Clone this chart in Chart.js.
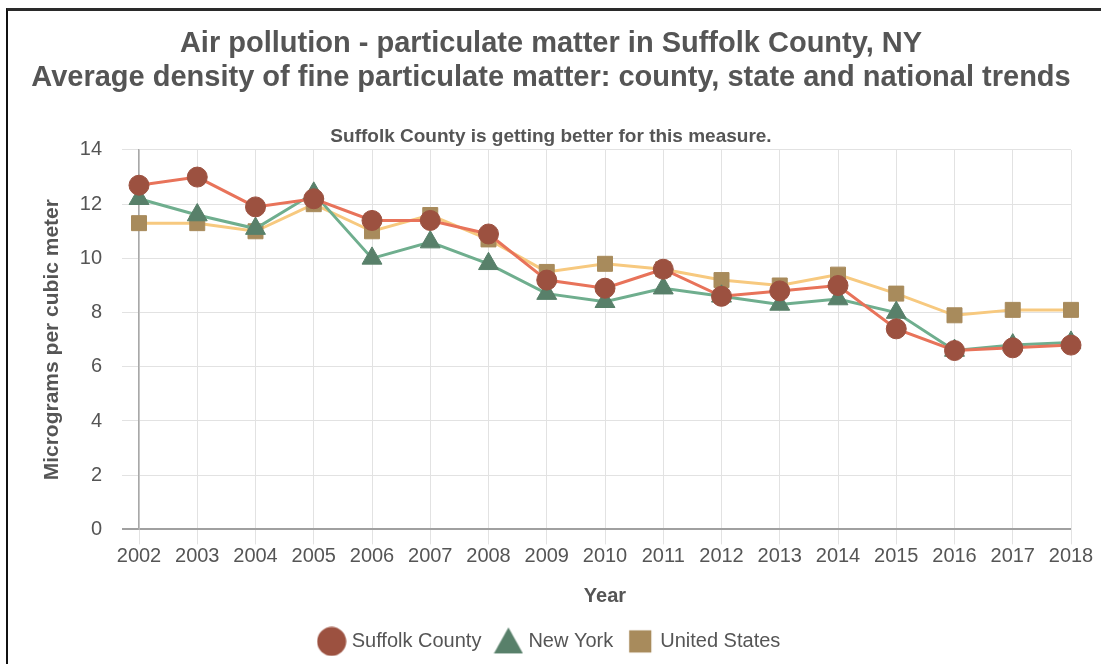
<!DOCTYPE html>
<html>
<head>
<meta charset="utf-8">
<script src="https://cdn.jsdelivr.net/npm/chart.js@4.4.1/dist/chart.umd.min.js"></script>
<style>
  html, body { margin: 0; padding: 0; background: #fff; }
  #wrap { position: relative; width: 1101px; height: 664px; }
  #frame { position: absolute; left: 6px; top: 8px; right: 0; bottom: 0;
           border-top: 3px solid #2a2a2a; border-left: 2px solid #111; pointer-events: none; }
</style>
</head>
<body>
<div id="wrap">
  <canvas id="pmChart" width="1101" height="664"></canvas>
  <div id="frame"></div>
</div>
<script>
// Data
const years = ['2002', '2003', '2004', '2005', '2006', '2007', '2008', '2009', '2010',
               '2011', '2012', '2013', '2014', '2015', '2016', '2017', '2018'];
const suffolk = [12.7, 13.0, 11.9, 12.2, 11.4, 11.4, 10.9, 9.2, 8.9, 9.6, 8.6, 8.8, 9.0, 7.4, 6.6, 6.7, 6.8];
const newYork = [12.2, 11.6, 11.1, 12.4, 10.0, 10.6, 9.8, 8.7, 8.4, 8.9, 8.6, 8.3, 8.5, 8.0, 6.6, 6.8, 6.9];
const unitedStates = [11.3, 11.3, 11.0, 12.0, 11.0, 11.6, 10.7, 9.5, 9.8, 9.6, 9.2, 9.0, 9.4, 8.7, 7.9, 8.1, 8.1];
const yTicks = [0, 2, 4, 6, 8, 10, 12, 14];

const FONT = "'Liberation Sans', Arial, sans-serif";
const TEXT = '#555555';

// Bigger legend markers, drawn once on small canvases
function marker(shape, color, size) {
    const c = document.createElement('canvas');
    c.width = size; c.height = size;
    const g = c.getContext('2d');
    g.fillStyle = color;
    g.beginPath();
    if (shape === 'circle') {
        g.arc(size / 2, size / 2, size / 2 - 0.5, 0, Math.PI * 2);
    } else if (shape === 'triangle') {
        g.moveTo(size / 2, 1);
        g.lineTo(size - 0.5, size - 3);
        g.lineTo(0.5, size - 3);
        g.closePath();
    } else {
        const s = size * 0.74, o = (size - s) / 2;
        g.rect(o, o, s, s);
    }
    g.fill();
    return c;
}
const legendMarkers = [
    marker('circle', '#9c5140', 30),
    marker('triangle', '#58806a', 30),
    marker('rect', '#a88b5c', 30)
];

const ctx = document.getElementById('pmChart').getContext('2d');
new Chart(ctx, {
    type: 'line',
    data: {
        labels: years,
        datasets: [{
            label: 'Suffolk County',
            data: suffolk,
            borderColor: '#e8735a',
            borderWidth: 3,
            pointStyle: 'circle',
            pointRadius: 10,
            pointBackgroundColor: '#9c5140',
            pointBorderColor: '#9c5140',
            pointBorderWidth: 1
        },
        {
            label: 'New York',
            data: newYork,
            borderColor: '#6fae8e',
            borderWidth: 3,
            pointStyle: 'triangle',
            pointRadius: 11.5,
            pointBackgroundColor: '#58806a',
            pointBorderColor: '#58806a',
            pointBorderWidth: 1
        },
        {
            label: 'United States',
            data: unitedStates,
            borderColor: '#f7c97f',
            borderWidth: 3,
            pointStyle: 'rect',
            pointRadius: 10.6,
            pointBackgroundColor: '#a88b5c',
            pointBorderColor: '#a88b5c',
            pointBorderWidth: 1
        }]
    },
    options: {
        responsive: false,
        animation: false,
        layout: {
            padding: { left: 31, right: 30, top: 0, bottom: 2.6 }
        },
        plugins: {
            title: {
                display: true,
                text: ['Air pollution - particulate matter in Suffolk County, NY',
                       'Average density of fine particulate matter: county, state and national trends'],
                color: TEXT,
                font: { family: FONT, size: 29, weight: 'bold', lineHeight: 1.172 },
                padding: { top: 27, bottom: 30.6 }
            },
            subtitle: {
                display: true,
                text: 'Suffolk County is getting better for this measure.',
                color: TEXT,
                font: { family: FONT, size: 19, weight: 'bold', lineHeight: 1.2 },
                padding: { top: 0, bottom: 1.6 }
            },
            legend: {
                position: 'bottom',
                labels: {
                    usePointStyle: true,
                    pointStyleWidth: 20,
                    padding: 17,
                    color: TEXT,
                    font: { family: FONT, size: 20 },
                    generateLabels: function(chart) {
                        const items = Chart.defaults.plugins.legend.labels.generateLabels(chart);
                        items.forEach((item, i) => { item.pointStyle = legendMarkers[i]; });
                        return items;
                    }
                }
            },
            tooltip: { enabled: false }
        },
        scales: {
            x: {
                offset: false,
                grid: {
                    color: '#e2e2e2',
                    tickLength: 15,
                    lineWidth: 1
                },
                border: { display: false },
                ticks: {
                    color: TEXT,
                    padding: 0,
                    maxRotation: 0,
                    font: { family: FONT, size: 20 }
                },
                title: {
                    display: true,
                    text: 'Year',
                    color: TEXT,
                    font: { family: FONT, size: 20, weight: 'bold' },
                    padding: { top: 16, bottom: 6 }
                }
            },
            y: {
                min: 0,
                max: 14,
                afterBuildTicks: function(scale) {
                    scale.ticks = yTicks.map(v => ({ value: v }));
                },
                afterFit: function(scale) {
                    scale.width = 108;
                },
                grid: {
                    color: c => c.tick && c.tick.value === 0 ? '#a0a0a0' : '#e2e2e2',
                    lineWidth: c => c.tick && c.tick.value === 0 ? 2 : 1,
                    tickLength: 17
                },
                border: { display: true, color: '#a8a8a8', width: 1.5 },
                ticks: {
                    color: TEXT,
                    padding: 20,
                    font: { family: FONT, size: 20 }
                },
                title: {
                    display: true,
                    text: 'Micrograms per cubic meter',
                    color: TEXT,
                    font: { family: FONT, size: 21, weight: 'bold' },
                    padding: { top: 8.4, bottom: 0 }
                }
            }
        }
    }
});
</script>
</body>
</html>
